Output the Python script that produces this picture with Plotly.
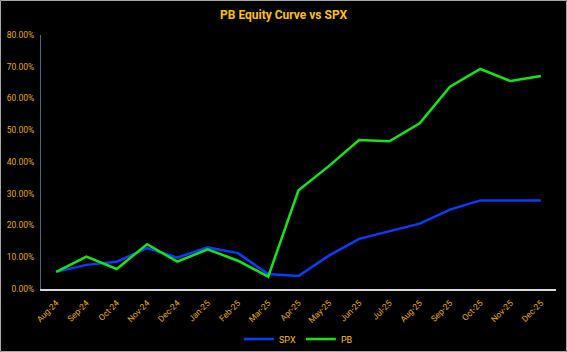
import plotly.graph_objects as go

months = ["Aug-24", "Sep-24", "Oct-24", "Nov-24", "Dec-24", "Jan-25", "Feb-25", "Mar-25",
          "Apr-25", "May-25", "Jun-25", "Jul-25", "Aug-25", "Sep-25", "Oct-25", "Nov-25", "Dec-25"]
spx = [0.054, 0.076, 0.086, 0.129, 0.099, 0.131, 0.113, 0.047,
       0.041, 0.105, 0.158, 0.181, 0.206, 0.250, 0.279, 0.279, 0.279]
pb = [0.054, 0.102, 0.063, 0.141, 0.086, 0.125, 0.089, 0.039,
      0.311, 0.387, 0.469, 0.465, 0.522, 0.637, 0.693, 0.655, 0.671]

W, H = 567, 352
ml, mr, mt, mb = 41, 11, 35, 63
pw, ph = W - ml - mr, H - mt - mb

gold = "#E8AE00"
fig = go.Figure()
fig.add_trace(go.Scatter(x=months, y=spx, name="SPX", mode="lines",
                         line=dict(color="#0A3CFF", width=2.5)))
fig.add_trace(go.Scatter(x=months, y=pb, name="PB", mode="lines",
                         line=dict(color="#14E614", width=2.5)))

fig.update_layout(
    width=W, height=H,
    margin=dict(l=ml, r=mr, t=mt, b=mb),
    paper_bgcolor="black", plot_bgcolor="black",
    title=dict(text="<b>PB Equity Curve vs SPX</b>", x=0.5, xanchor="center", y=1 - 15 / H, yanchor="middle",
               font=dict(family="Roboto", size=12, color="#FFC000")),
    showlegend=True,
    legend=dict(orientation="h", x=0.5, xanchor="center", yref="container",
                y=(H - 339) / H, yanchor="middle",
                font=dict(family="Roboto", size=9, color="#FFC000"), bgcolor="rgba(0,0,0,0)",
                itemwidth=30),
    xaxis=dict(type="category", range=[-0.5, len(months) - 0.5], tickangle=-45,
               tickfont=dict(family="Roboto", size=8.5, color=gold),
               showgrid=False, showline=True, linecolor="#D9D9D9", linewidth=1.5,
               ticks="", zeroline=False, ticklabelstandoff=4, automargin=False),
    yaxis=dict(range=[0, 0.8], dtick=0.1, tickformat=".2%",
               tickfont=dict(family="Roboto", size=8.5, color=gold),
               showgrid=False, showline=True, linecolor="#3C6E8F", linewidth=1,
               ticks="", zeroline=False, ticklabelstandoff=4, automargin=False),
)

# outer border of the chart
fig.add_shape(type="rect", xref="paper", yref="paper",
              x0=-(ml - 0.5) / pw, x1=1 + (mr - 0.5) / pw,
              y0=-(mb - 0.5) / ph, y1=1 + (mt - 0.5) / ph,
              line=dict(color="#A6A6A6", width=1), layer="below")

fig.write_html("out.html")
